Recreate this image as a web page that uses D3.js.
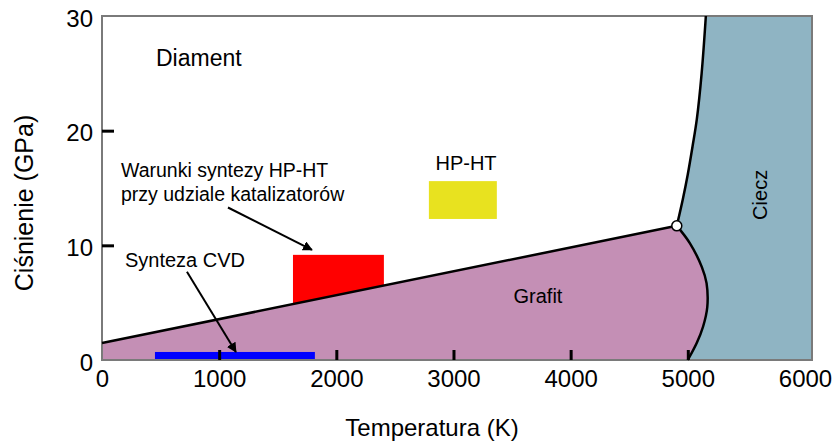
<!DOCTYPE html>
<meta charset="utf-8">
<script src="https://d3js.org/d3.v7.min.js"></script>
<style>
  body { margin: 0; background: #fff; }
  text { font-family: "Liberation Sans", Arial, sans-serif; fill: #000; }
</style>
<body>
<div id="chart"></div>
<script>

// ticks
var xTicks = [0, 1000, 2000, 3000, 4000, 5000, 6000];
var yTicks = [0, 10, 20, 30];

// phase boundaries [T (K), p (GPa)]
var graphiteDiamond = [[0, 1.48], [4906, 11.7]];
var diamondLiquid = [[4906, 11.7], [4957, 14.0], [5000, 16.2], [5040, 18.6], [5077, 21.0], [5118, 25.0], [5154, 30]];
var graphiteLiquid = [[4906, 11.7], [5017, 10.2], [5120, 8.1], [5160, 6.7], [5166, 4.6], [5130, 2.9], [5077, 1.5], [5000, 0]];
var triplePoint = [4906, 11.7];

// synthesis regions [T0, T1, p0, p1]
var cvd = [452, 1817, 0, 0.7];
var hpht = [2790, 3370, 12.3, 15.6];
var catalyst = [1630, 2406, 4.0, 9.17];

// arrows [from, to]
var arrowCatalyst = [[1075, 13.3], [1792, 9.6]];
var arrowCvd = [[725, 7.7], [1143, 0.7]];

var width = 837, height = 443;

var svg = d3.select("#chart").append("svg")
  .attr("width", width)
  .attr("height", height);

var x = d3.scaleLinear().domain([0, 6060]).range([102, 812]);
var y = d3.scaleLinear().domain([0, 30]).range([360, 16]);

var line = d3.line().x(function(d) { return x(d[0]); }).y(function(d) { return y(d[1]); });
var curve = d3.line().curve(d3.curveCatmullRom).x(function(d) { return x(d[0]); }).y(function(d) { return y(d[1]); });

svg.append("defs").append("marker")
  .attr("id", "head")
  .attr("viewBox", "0 0 10 10")
  .attr("refX", 9).attr("refY", 5)
  .attr("markerWidth", 5).attr("markerHeight", 5)
  .attr("markerUnits", "strokeWidth")
  .attr("orient", "auto")
  .append("path").attr("d", "M0,0L10,5L0,10z").attr("fill", "#000");

// liquid region: right of melting curves
var liquidPts = diamondLiquid.slice().reverse().concat(graphiteLiquid.slice(1));
var liquidPath = curve(diamondLiquid.slice().reverse()) ;
svg.append("path")
  .attr("d", curve(diamondLiquid) + "L" + x(6060) + "," + y(30) + "L" + x(6060) + "," + y(0) +
             "L" + x(5000) + "," + y(0) + curve(graphiteLiquid.slice().reverse()).replace(/^M/, "L") + "Z")
  .attr("fill", "#8fb4c3");

// red rect (under graphite)
svg.append("rect")
  .attr("x", x(catalyst[0])).attr("y", y(catalyst[3]))
  .attr("width", x(catalyst[1]) - x(catalyst[0]))
  .attr("height", y(catalyst[2]) - y(catalyst[3]))
  .attr("fill", "#ff0000");

// graphite region
svg.append("path")
  .attr("d", "M" + x(0) + "," + y(0) + "L" + x(0) + "," + y(graphiteDiamond[0][1]) +
             "L" + x(triplePoint[0]) + "," + y(triplePoint[1]) +
             curve(graphiteLiquid).replace(/^M/, "L") + "Z")
  .attr("fill", "#c48fb5");

svg.append("rect")
  .attr("x", x(hpht[0])).attr("y", y(hpht[3]))
  .attr("width", x(hpht[1]) - x(hpht[0]))
  .attr("height", y(hpht[2]) - y(hpht[3]))
  .attr("fill", "#e8e21f");

svg.append("rect")
  .attr("x", x(cvd[0])).attr("y", y(cvd[3]))
  .attr("width", x(cvd[1]) - x(cvd[0]))
  .attr("height", y(cvd[2]) - y(cvd[3]))
  .attr("fill", "#0000ff");

// frame
svg.append("rect")
  .attr("x", x(0)).attr("y", y(30))
  .attr("width", x(6060) - x(0)).attr("height", y(0) - y(30))
  .attr("fill", "none").attr("stroke", "#7a7a7a").attr("stroke-width", 2);

// axes
var xAxis = svg.append("g")
  .attr("transform", "translate(0," + y(0) + ")")
  .call(d3.axisBottom(x).tickValues(xTicks).tickSizeInner(-10).tickSizeOuter(0).tickPadding(10).tickFormat(d3.format("d")));
xAxis.select(".domain").remove();
xAxis.selectAll(".tick line").attr("stroke", "#000").attr("stroke-width", 3)
  .filter(function(d) { return d === 0 || d === 6000; }).remove();
xAxis.selectAll("text").style("font-size", "24px").attr("fill", "#000");

var yAxis = svg.append("g")
  .attr("transform", "translate(" + x(0) + ",0)")
  .call(d3.axisLeft(y).tickValues(yTicks).tickSizeInner(-12).tickSizeOuter(0).tickPadding(9));
yAxis.select(".domain").remove();
yAxis.selectAll(".tick line").attr("stroke", "#000").attr("stroke-width", 3)
  .filter(function(d) { return d === 0 || d === 30; }).remove();
yAxis.selectAll("text").style("font-size", "24px").attr("fill", "#000").attr("dy", "0.42em");

// boundaries
svg.append("path").attr("d", line(graphiteDiamond)).attr("fill", "none").attr("stroke", "#000").attr("stroke-width", 2.5);
svg.append("path").attr("d", curve(diamondLiquid)).attr("fill", "none").attr("stroke", "#000").attr("stroke-width", 2.5);
svg.append("path").attr("d", curve(graphiteLiquid)).attr("fill", "none").attr("stroke", "#000").attr("stroke-width", 2.5);

svg.append("circle")
  .attr("cx", x(triplePoint[0])).attr("cy", y(triplePoint[1])).attr("r", 5)
  .attr("fill", "#fff").attr("stroke", "#000").attr("stroke-width", 1.5);

// arrows
[arrowCatalyst, arrowCvd].forEach(function(a) {
  svg.append("path").attr("d", line(a))
    .attr("stroke", "#000").attr("stroke-width", 2).attr("fill", "none")
    .attr("marker-end", "url(#head)");
});

// labels
function label(t, tx, py, size, anchor) {
  return svg.append("text")
    .attr("x", x(tx)).attr("y", y(py))
    .attr("text-anchor", anchor || "start")
    .style("font-size", size + "px")
    .text(t);
}
label("Diament", 461, 25.67, 23);
label("Warunki syntezy HP-HT", 162, 15.96, 19.5);
label("przy udziale katalizatorów", 162, 13.87, 19.5);
label("Synteza CVD", 196, 8.11, 20);
label("HP-HT", 3107, 16.57, 20, "middle");
label("Grafit", 3721, 4.97, 20, "middle");

svg.append("text")
  .attr("transform", "translate(" + x(5676) + "," + y(14.4) + ") rotate(-90)")
  .attr("text-anchor", "middle")
  .style("font-size", "20px")
  .text("Ciecz");

// axis titles
svg.append("text")
  .attr("x", 432).attr("y", 436)
  .attr("text-anchor", "middle")
  .style("font-size", "24px")
  .text("Temperatura (K)");

svg.append("text")
  .attr("transform", "translate(33,203) rotate(-90)")
  .attr("text-anchor", "middle")
  .style("font-size", "25px")
  .text("Ciśnienie (GPa)");

</script>
</body>
